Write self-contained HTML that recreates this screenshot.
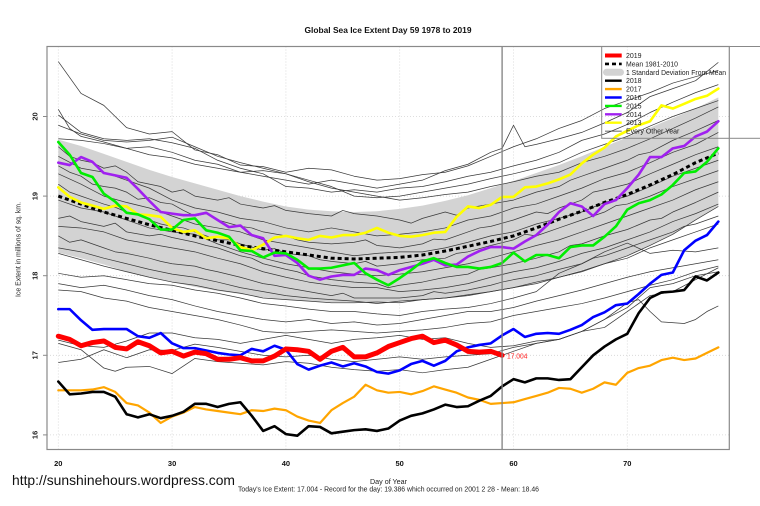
<!DOCTYPE html>
<html><head><meta charset="utf-8"><style>
html,body{margin:0;padding:0;background:#fff;}
svg{display:block;}
text{font-family:"Liberation Sans",Arial,sans-serif;}
</style></head><body>
<svg width="760" height="506" viewBox="0 0 760 506" xmlns="http://www.w3.org/2000/svg">
<rect x="0" y="0" width="760" height="506" fill="#fff"/>
<text x="388" y="33" font-size="8.4" font-weight="bold" text-anchor="middle" textLength="167" lengthAdjust="spacingAndGlyphs" fill="#111">Global Sea Ice Extent Day 59 1978 to 2019</text>
<g stroke="#d4d4d4" stroke-width="0.8" stroke-dasharray="1 2" fill="none">
<line x1="58.3" y1="46.5" x2="58.3" y2="449.5"/><line x1="172.1" y1="46.5" x2="172.1" y2="449.5"/><line x1="285.9" y1="46.5" x2="285.9" y2="449.5"/><line x1="399.7" y1="46.5" x2="399.7" y2="449.5"/><line x1="513.5" y1="46.5" x2="513.5" y2="449.5"/><line x1="627.3" y1="46.5" x2="627.3" y2="449.5"/>
<line x1="47" y1="116.5" x2="729.3" y2="116.5"/><line x1="47" y1="196.1" x2="729.3" y2="196.1"/><line x1="47" y1="275.7" x2="729.3" y2="275.7"/><line x1="47" y1="355.3" x2="729.3" y2="355.3"/><line x1="47" y1="434.9" x2="729.3" y2="434.9"/>
</g>
<g transform="matrix(11.38 0 0 -79.6 -169.3 1708.5)">
<polygon fill="#d3d3d3" stroke="none" points="20,19.71 22,19.63 24,19.53 26,19.43 28,19.33 30,19.24 32,19.16 34,19.08 36,19.0 38,18.93 40,18.87 42,18.83 44,18.81 46,18.80 48,18.81 50,18.84 52,18.88 54,18.94 56,19.01 58,19.10 60,19.19 62,19.29 64,19.39 66,19.50 68,19.62 70,19.74 72,19.86 74,19.98 76,20.10 78,20.24 78,18.88 76,18.70 74,18.52 72,18.38 70,18.25 68,18.15 66,18.07 64,17.99 62,17.91 60,17.85 58,17.80 56,17.76 54,17.72 52,17.70 50,17.68 48,17.67 46,17.67 44,17.67 42,17.68 40,17.70 38,17.73 36,17.77 34,17.81 32,17.86 30,17.92 28,17.98 26,18.05 24,18.14 22,18.22 20,18.29"/>
<g fill="none" stroke="#3a3a3a" stroke-width="0.75" stroke-linejoin="round">
<polyline vector-effect="non-scaling-stroke" points="20,20.69 22,20.29 24,20.14 26,19.86 28,19.78 30,19.81 32,19.58 34,19.52 36,19.39 38,19.37 40,19.3 42,19.35 44,19.33 46,19.25 48,19.2 50,19.22 52,19.27 54,19.3 56,19.38 58,19.5 60,19.62 62,19.72 64,19.85 66,19.95 68,20.1 70,20.2 72,20.3 74,20.42 76,20.5 78,20.58"/>
<polyline vector-effect="non-scaling-stroke" points="20,20.09 21,19.85 22,19.75 24,19.68 26,19.6 28,19.62 30,19.55 32,19.45 34,19.4 36,19.3 38,19.25 40,19.2 42,19.15 44,19.2 46,19.15 48,19.1 50,19.15 52,19.2 54,19.32 56,19.4 58,19.55 59,19.6 60,19.89 61,19.62 62,19.65 64,19.72 66,19.8 68,19.92 70,20.05 72,20.25 74,20.35 76,20.45 78,20.68"/>
<polyline vector-effect="non-scaling-stroke" points="20,20.02 22,19.8 24,19.72 26,19.7 28,19.72 30,19.67 32,19.6 34,19.45 36,19.35 38,19.28 40,19.12 42,19.1 44,19.05 46,19.08 48,19.05 50,19.1 52,19.12 54,19.18 56,19.25 58,19.3 60,19.38 62,19.45 64,19.55 66,19.7 68,19.78 70,19.9 72,20.05 74,20.18 76,20.3 78,20.4"/>
<polyline vector-effect="non-scaling-stroke" points="20,19.89 22,19.78 24,19.7 26,19.68 28,19.7 30,19.74 32,19.62 34,19.5 36,19.42 38,19.35 40,19.28 42,19.2 44,19.12 46,19.0 48,18.98 50,19.0 52,19.05 54,19.1 56,19.15 58,19.22 60,19.28 62,19.35 64,19.42 66,19.55 68,19.65 70,19.75 72,19.88 74,20.0 76,20.1 78,20.2"/>
<polyline vector-effect="non-scaling-stroke" points="20,19.72 22,19.7 24,19.66 26,19.6 28,19.52 30,19.48 32,19.4 34,19.35 36,19.3 38,19.32 40,19.28 42,19.18 44,19.1 46,19.05 48,19.0 50,18.95 52,18.98 54,19.02 56,19.05 58,19.12 60,19.18 62,19.25 64,19.3 66,19.42 68,19.5 70,19.6 72,19.72 74,19.85 76,19.98 78,20.12"/>
<polyline vector-effect="non-scaling-stroke" points="20,19.62 21,19.5 22,19.45 23,19.42 24,19.35 25,19.38 26,19.3 27,19.18 28,19.15 29,19.12 30,19.05 31,19.08 32,19.0 34,18.95 35,18.98 36,18.9 38,18.85 39,18.88 40,18.82 42,18.78 44,18.75 45,18.82 46,18.78 48,18.75 50,18.7 51,18.66 52,18.72 54,18.8 55,18.76 56,18.85 58,18.9 60,18.95 61,19.0 62,19.05 64,19.12 65,19.2 66,19.25 68,19.35 70,19.45 71,19.52 72,19.55 74,19.7 76,19.82 78,19.95"/>
<polyline vector-effect="non-scaling-stroke" points="20,19.5 22,19.35 24,19.3 26,19.2 28,19.1 30,18.95 32,18.85 34,18.8 36,18.72 38,18.68 40,18.6 42,18.55 44,18.6 46,18.55 48,18.5 50,18.52 52,18.55 54,18.6 56,18.7 58,18.75 60,18.85 62,18.9 64,19.0 66,19.1 68,19.22 70,19.3 72,19.42 74,19.55 76,19.65 78,19.8"/>
<polyline vector-effect="non-scaling-stroke" points="20,19.38 21,19.3 22,19.25 23,19.15 24,19.12 25,19.1 26,19.05 27,18.96 28,18.98 29,18.92 30,18.9 31,18.82 32,18.75 33,18.78 34,18.7 36,18.62 37,18.6 38,18.55 40,18.5 41,18.45 42,18.42 44,18.4 46,18.42 47,18.45 48,18.38 50,18.35 52,18.4 53,18.46 54,18.45 56,18.55 57,18.6 58,18.62 60,18.7 62,18.8 63,18.78 64,18.85 66,18.95 67,19.05 68,19.08 70,19.15 72,19.28 74,19.4 76,19.52 78,19.62"/>
<polyline vector-effect="non-scaling-stroke" points="20,19.28 22,19.15 24,19.0 26,18.92 28,18.85 30,18.75 32,18.65 34,18.6 36,18.55 38,18.45 40,18.4 42,18.35 44,18.3 46,18.25 48,18.28 50,18.3 52,18.3 54,18.35 56,18.42 58,18.5 60,18.55 62,18.65 64,18.72 66,18.8 68,18.92 70,19.0 72,19.12 74,19.25 76,19.35 78,19.45"/>
<polyline vector-effect="non-scaling-stroke" points="20,19.15 21,19.05 22,19.0 23,18.95 24,18.9 25,18.86 26,18.8 27,18.78 28,18.7 29,18.65 30,18.62 31,18.6 32,18.55 33,18.5 34,18.45 35,18.45 36,18.4 38,18.32 39,18.34 40,18.28 42,18.25 43,18.2 44,18.18 46,18.15 47,18.18 48,18.12 50,18.15 52,18.2 54,18.22 55,18.28 56,18.3 58,18.38 60,18.45 61,18.52 62,18.5 64,18.6 66,18.7 68,18.8 69,18.88 70,18.9 72,19.0 74,19.12 76,19.22 78,19.32"/>
<polyline vector-effect="non-scaling-stroke" points="20,18.95 22,18.85 24,18.8 26,18.7 28,18.6 30,18.55 32,18.52 34,18.4 36,18.3 38,18.22 40,18.15 42,18.1 44,18.05 46,18.02 48,18.0 50,18.02 52,18.05 54,18.1 56,18.15 58,18.22 60,18.3 62,18.38 64,18.45 66,18.55 68,18.65 70,18.75 72,18.85 74,18.95 76,19.08 78,19.18"/>
<polyline vector-effect="non-scaling-stroke" points="20,18.72 21,18.75 22,18.68 24,18.62 25,18.66 26,18.55 28,18.5 29,18.52 30,18.48 32,18.42 33,18.38 34,18.35 36,18.25 37,18.22 38,18.15 40,18.08 41,18.05 42,18.0 44,17.95 46,17.92 48,17.9 49,17.85 50,17.88 52,17.92 54,17.98 56,18.02 57,18.08 58,18.1 60,18.15 62,18.22 64,18.3 65,18.38 66,18.4 68,18.5 70,18.58 72,18.7 73,18.72 74,18.8 76,18.92 78,19.05"/>
<polyline vector-effect="non-scaling-stroke" points="20,18.62 22,18.6 24,18.55 26,18.45 28,18.4 30,18.35 32,18.3 34,18.22 36,18.15 38,18.05 40,17.98 42,17.92 44,17.88 46,17.85 48,17.85 50,17.8 52,17.82 54,17.85 56,17.9 58,17.98 60,18.05 62,18.1 64,18.18 66,18.28 68,18.35 70,18.45 72,18.55 74,18.68 76,18.78 78,18.9"/>
<polyline vector-effect="non-scaling-stroke" points="20,18.5 21,18.42 22,18.45 24,18.35 25,18.3 26,18.28 28,18.22 29,18.18 30,18.15 32,18.12 33,18.08 34,18.05 36,17.98 38,17.9 39,17.88 40,17.85 42,17.8 44,17.75 45,17.78 46,17.72 48,17.72 50,17.72 52,17.75 53,17.8 54,17.78 56,17.82 58,17.88 59,17.92 60,17.95 62,18.0 64,18.08 66,18.15 67,18.22 68,18.25 70,18.35 72,18.45 74,18.55 75,18.62 76,18.65 78,18.75"/>
<polyline vector-effect="non-scaling-stroke" points="20,18.35 22,18.3 24,18.22 26,18.15 28,18.08 30,18.02 32,17.98 34,17.92 36,17.85 38,17.8 40,17.75 42,17.72 44,17.7 46,17.68 48,17.65 50,17.68 52,17.7 54,17.72 56,17.75 58,17.8 60,17.85 62,17.92 64,17.98 66,18.05 68,18.15 70,18.22 72,18.35 74,18.45 76,18.55 78,18.65"/>
<polyline vector-effect="non-scaling-stroke" points="20,18.28 22,18.2 24,18.12 26,18.05 28,17.98 30,17.92 32,17.88 34,17.82 36,17.78 38,17.72 40,17.7 42,17.68 44,17.66 46,17.66 48,17.67 50,17.66 52,17.7 54,17.72 56,17.76 58,17.8 60,17.85 62,17.9 64,17.98 66,18.06 68,18.15 70,18.25 72,18.38 74,18.52 76,18.7 78,18.87"/>
<polyline vector-effect="non-scaling-stroke" points="20,18.03 22,17.98 24,18.0 26,17.95 28,17.9 30,17.88 32,17.82 34,17.78 36,17.72 38,17.65 40,17.62 42,17.58 44,17.55 46,17.55 48,17.52 50,17.5 52,17.55 54,17.58 56,17.6 58,17.65 60,17.72 62,17.8 64,18.03 66,18.15 68,18.3 70,18.41 72,18.28 74,18.32 76,18.3 78,18.35"/>
<polyline vector-effect="non-scaling-stroke" points="20,17.9 22,17.85 24,17.88 26,17.82 28,17.75 30,17.7 32,17.62 34,17.55 36,17.5 38,17.45 40,17.42 42,17.45 44,17.4 46,17.42 48,17.38 50,17.4 52,17.45 54,17.5 56,17.55 58,17.55 60,17.6 62,17.68 64,17.75 66,17.82 68,17.9 70,17.98 72,18.05 74,18.1 76,18.15 78,18.2"/>
<polyline vector-effect="non-scaling-stroke" points="20,17.82 22,17.8 24,17.72 26,17.68 28,17.6 30,17.55 32,17.5 34,17.45 36,17.38 38,17.3 40,17.28 42,17.3 44,17.32 46,17.3 48,17.28 50,17.3 52,17.32 54,17.35 56,17.4 58,17.42 60,17.5 62,17.55 64,17.6 66,17.65 68,17.72 70,17.8 72,17.88 74,17.95 76,18.05 78,18.12"/>
<polyline vector-effect="non-scaling-stroke" points="20,17.19 22,17.12 24,17.1 26,17.18 28,17.28 30,17.28 32,17.22 34,17.2 36,17.15 38,17.2 40,17.25 42,17.2 44,17.15 46,17.2 48,17.22 50,17.25 52,17.2 54,17.22 56,17.15 58,17.1 60,17.12 62,17.18 64,17.2 66,17.3 68,17.45 70,17.66 71,17.7 72,17.55 73,17.42 75,17.4 76,17.45 77,17.55 78,17.62"/>
<polyline vector-effect="non-scaling-stroke" points="20,17.15 22,17.07 24,16.84 25,16.8 26,16.85 28,16.86 30,16.77 32,16.96 34,16.92 36,16.9 38,16.88 40,16.92 42,16.9 44,16.85 46,16.82 48,16.8 50,16.82 52,16.78 54,16.82 56,16.85 58,16.95 60,17.05 62,17.15 64,17.2 66,17.3 68,17.45 70,17.6 72,17.85 74,17.9 76,18.0 78,18.05"/>
<polyline vector-effect="non-scaling-stroke" points="20,16.91 22,16.95 24,17.07 26,16.97 28,17.07 30,17.06 32,17.14 34,17.1 36,17.05 38,17.0 40,16.98 42,17.0 44,16.95 46,16.92 48,16.95 50,16.98 52,16.95 54,16.98 56,17.0 58,17.02 60,17.1 62,17.15 64,17.2 66,17.3 68,17.35 70,17.55 72,17.75 74,17.8 76,17.95 78,18.1"/>
</g>
</g>
<polyline fill="none" stroke="#000" stroke-width="3" stroke-dasharray="4 3" points="58.3,196.1 81.06,204.06 103.82,212.02 126.58,218.39 149.34,224.76 172.1,230.33 194.86,235.9 217.62,240.68 240.38,245.45 263.14,248.64 285.9,251.82 308.66,255 331.42,258.19 354.18,258.98 376.94,258.19 399.7,257.39 422.46,255 445.22,251.02 467.98,246.25 490.74,241.47 513.5,235.9 536.26,227.94 559.02,219.18 581.78,211.22 604.54,202.47 627.3,194.51 650.06,184.96 672.82,174.61 695.58,162.67 718.34,153.12"/>
<g transform="matrix(11.38 0 0 -79.6 -169.3 1708.5)" fill="none" stroke-linejoin="round" stroke-linecap="round">
<polyline vector-effect="non-scaling-stroke" stroke="#ffff00" stroke-width="2.6" points="20,19.11 21,18.99 22,18.92 23,18.88 24,18.84 25,18.88 26,18.87 27,18.77 28,18.76 29,18.74 30,18.60 31,18.55 32,18.57 33,18.47 34,18.49 35,18.47 36,18.36 37,18.32 38,18.39 39,18.48 40,18.50 41,18.47 42,18.45 43,18.50 44,18.48 45,18.51 46,18.51 47,18.54 48,18.60 49,18.54 50,18.50 51,18.49 52,18.51 53,18.54 54,18.55 55,18.74 56,18.87 57,18.85 58,18.89 59,18.99 60,18.99 61,19.11 62,19.12 63,19.16 64,19.21 65,19.27 66,19.41 67,19.52 68,19.61 69,19.75 70,19.82 71,19.89 72,19.94 73,20.14 74,20.10 75,20.16 76,20.22 77,20.26 78,20.35"/>
<polyline vector-effect="non-scaling-stroke" stroke="#a020f0" stroke-width="2.6" points="20,19.42 21,19.39 22,19.49 23,19.43 24,19.29 25,19.26 26,19.23 27,19.09 28,18.94 29,18.80 30,18.78 31,18.76 32,18.76 33,18.79 34,18.70 35,18.61 36,18.63 37,18.51 38,18.47 39,18.25 40,18.26 41,18.16 42,18.00 43,17.95 44,17.99 45,18.01 46,18.01 47,18.09 48,18.07 49,18.01 50,18.07 51,18.11 52,18.15 53,18.20 54,18.13 55,18.14 56,18.24 57,18.31 58,18.36 59,18.36 60,18.34 61,18.43 62,18.51 63,18.64 64,18.80 65,18.91 66,18.87 67,18.75 68,18.90 69,18.95 70,19.10 71,19.27 72,19.49 73,19.49 74,19.60 75,19.63 76,19.75 77,19.81 78,19.94"/>
<polyline vector-effect="non-scaling-stroke" stroke="#00ee00" stroke-width="2.6" points="20,19.68 21,19.52 22,19.29 23,19.24 24,19.03 25,18.93 26,18.79 27,18.77 28,18.71 29,18.58 30,18.58 31,18.70 32,18.72 33,18.57 34,18.54 35,18.49 36,18.32 37,18.31 38,18.23 39,18.29 40,18.28 41,18.20 42,18.09 43,18.09 44,18.10 45,18.13 46,18.16 47,18.03 48,17.95 49,17.88 50,17.97 51,18.07 52,18.18 53,18.22 54,18.16 55,18.11 56,18.11 57,18.09 58,18.11 59,18.16 60,18.29 61,18.18 62,18.26 63,18.26 64,18.22 65,18.36 66,18.38 67,18.38 68,18.49 69,18.62 70,18.83 71,18.91 72,18.95 73,19.02 74,19.14 75,19.29 76,19.31 77,19.43 78,19.60"/>
<polyline vector-effect="non-scaling-stroke" stroke="#0000ff" stroke-width="2.6" points="20,17.58 21,17.58 22,17.44 23,17.32 24,17.33 25,17.33 26,17.33 27,17.24 28,17.22 29,17.28 30,17.15 31,17.09 32,17.09 33,17.06 34,17.03 35,17.01 36,17.00 37,17.08 38,17.05 39,17.12 40,17.07 41,16.89 42,16.82 43,16.87 44,16.91 45,16.86 46,16.90 47,16.86 48,16.79 49,16.77 50,16.81 51,16.89 52,16.93 53,16.87 54,16.93 55,17.05 56,17.10 57,17.13 58,17.15 59,17.25 60,17.33 61,17.23 62,17.27 63,17.28 64,17.27 65,17.32 66,17.38 67,17.48 68,17.54 69,17.63 70,17.65 71,17.77 72,17.90 73,18.01 74,18.04 75,18.32 76,18.44 77,18.51 78,18.68"/>
<polyline vector-effect="non-scaling-stroke" stroke="#ffa500" stroke-width="2.2" points="20,16.56 21,16.56 22,16.56 23,16.57 24,16.60 25,16.54 26,16.40 27,16.37 28,16.28 29,16.15 30,16.23 31,16.28 32,16.35 33,16.32 34,16.30 35,16.28 36,16.26 37,16.31 38,16.30 39,16.33 40,16.31 41,16.23 42,16.18 43,16.15 44,16.31 45,16.40 46,16.48 47,16.63 48,16.56 49,16.53 50,16.54 51,16.51 52,16.55 53,16.61 54,16.57 55,16.53 56,16.47 57,16.44 58,16.39 59,16.40 60,16.41 61,16.45 62,16.49 63,16.53 64,16.59 65,16.58 66,16.53 67,16.58 68,16.66 69,16.63 70,16.78 71,16.84 72,16.87 73,16.94 74,16.97 75,16.94 76,16.96 77,17.03 78,17.10"/>
<polyline vector-effect="non-scaling-stroke" stroke="#000000" stroke-width="2.6" points="20,16.67 21,16.51 22,16.52 23,16.54 24,16.54 25,16.48 26,16.26 27,16.22 28,16.26 29,16.21 30,16.24 31,16.29 32,16.39 33,16.39 34,16.35 35,16.39 36,16.41 37,16.24 38,16.05 39,16.11 40,16.01 41,15.99 42,16.11 43,16.10 44,16.02 45,16.04 46,16.06 47,16.07 48,16.05 49,16.08 50,16.18 51,16.24 52,16.27 53,16.32 54,16.38 55,16.35 56,16.36 57,16.43 58,16.49 59,16.61 60,16.70 61,16.66 62,16.71 63,16.71 64,16.69 65,16.70 66,16.85 67,17.00 68,17.11 69,17.20 70,17.27 71,17.53 72,17.72 73,17.79 74,17.80 75,17.82 76,17.99 77,17.94 78,18.04"/>
<polyline vector-effect="non-scaling-stroke" stroke="#ff0000" stroke-width="5" points="20,17.24 21,17.20 22,17.12 23,17.16 24,17.18 25,17.10 26,17.08 27,17.17 28,17.12 29,17.03 30,17.05 31,16.99 32,17.04 33,17.02 34,16.95 35,16.95 36,16.97 37,16.93 38,16.93 39,16.99 40,17.08 41,17.07 42,17.05 43,16.95 44,17.05 45,17.10 46,16.98 47,16.98 48,17.03 49,17.11 50,17.16 51,17.21 52,17.24 53,17.16 54,17.19 55,17.13 56,17.05 57,17.04 58,17.05 59,17.00"/>
</g>
<text x="507" y="358.5" font-size="7" fill="#ff2020" textLength="20.5" lengthAdjust="spacingAndGlyphs">17.004</text>
<line x1="502.1" y1="46.5" x2="502.1" y2="449.5" stroke="#808080" stroke-width="1.3"/>
<rect x="601.7" y="46.5" width="170" height="91.8" fill="none" stroke="#888" stroke-width="1"/>
<g stroke-linecap="butt">
<line x1="605" y1="55.5" x2="621.7" y2="55.5" stroke="#ff0000" stroke-width="4"/>
<line x1="605" y1="63.9" x2="621.7" y2="63.9" stroke="#000" stroke-width="2.6" stroke-dasharray="4 3"/>
<rect x="603" y="68.8" width="21" height="7" rx="3.5" fill="#d3d3d3"/>
<line x1="605" y1="80.7" x2="621.7" y2="80.7" stroke="#000" stroke-width="2.4"/>
<line x1="605" y1="89.1" x2="621.7" y2="89.1" stroke="#ffa500" stroke-width="2.4"/>
<line x1="605" y1="97.5" x2="621.7" y2="97.5" stroke="#0000ff" stroke-width="2.4"/>
<line x1="605" y1="105.9" x2="621.7" y2="105.9" stroke="#00ee00" stroke-width="2.4"/>
<line x1="605" y1="114.3" x2="621.7" y2="114.3" stroke="#a020f0" stroke-width="2.4"/>
<line x1="605" y1="122.7" x2="621.7" y2="122.7" stroke="#ffff00" stroke-width="2.4"/>
<line x1="605" y1="131.1" x2="621.7" y2="131.1" stroke="#333" stroke-width="0.8"/>
</g>
<g font-size="7" fill="#222">
<text x="626" y="58">2019</text>
<text x="626" y="66.4" textLength="52" lengthAdjust="spacingAndGlyphs">Mean 1981-2010</text>
<text x="626" y="74.8" textLength="100" lengthAdjust="spacingAndGlyphs">1 Standard Deviation From Mean</text>
<text x="626" y="83.2">2018</text>
<text x="626" y="91.6">2017</text>
<text x="626" y="100">2016</text>
<text x="626" y="108.4">2015</text>
<text x="626" y="116.8">2014</text>
<text x="626" y="125.2">2013</text>
<text x="626" y="133.6">Every Other Year</text>
</g>
<rect x="47" y="46.5" width="682.3" height="403" fill="none" stroke="#8a8a8a" stroke-width="1.2"/>
<g stroke="#8a8a8a" stroke-width="1">
<line x1="43" y1="116.5" x2="47" y2="116.5"/><line x1="43" y1="196.1" x2="47" y2="196.1"/><line x1="43" y1="275.7" x2="47" y2="275.7"/><line x1="43" y1="355.3" x2="47" y2="355.3"/><line x1="43" y1="434.9" x2="47" y2="434.9"/>
</g>
<g font-size="7.5" font-weight="bold" fill="#222" text-anchor="middle">
<text transform="translate(37.5,116.5) rotate(-90)">20</text>
<text transform="translate(37.5,196.1) rotate(-90)">19</text>
<text transform="translate(37.5,275.7) rotate(-90)">18</text>
<text transform="translate(37.5,355.3) rotate(-90)">17</text>
<text transform="translate(37.5,434.9) rotate(-90)">16</text>
</g>
<text transform="translate(20.5,249.5) rotate(-90)" font-size="7" fill="#222" text-anchor="middle" textLength="95" lengthAdjust="spacingAndGlyphs">Ice Extent in millions of sq. km.</text>
<g font-size="7.5" font-weight="bold" fill="#111" text-anchor="middle">
<text x="58.3" y="466">20</text><text x="172.1" y="466">30</text><text x="285.9" y="466">40</text><text x="399.7" y="466">50</text><text x="513.5" y="466">60</text><text x="627.3" y="466">70</text>
</g>
<text x="388.5" y="484" font-size="7" fill="#222" text-anchor="middle" textLength="37" lengthAdjust="spacingAndGlyphs">Day of Year</text>
<text x="388.5" y="491.5" font-size="7" fill="#222" text-anchor="middle" textLength="301" lengthAdjust="spacingAndGlyphs">Today's Ice Extent: 17.004  - Record for the day: 19.386 which occurred on 2001 2 28  - Mean: 18.46</text>
<text x="12" y="485" font-size="14" fill="#111" textLength="223" lengthAdjust="spacingAndGlyphs">http://sunshinehours.wordpress.com</text>
</svg>
</body></html>
